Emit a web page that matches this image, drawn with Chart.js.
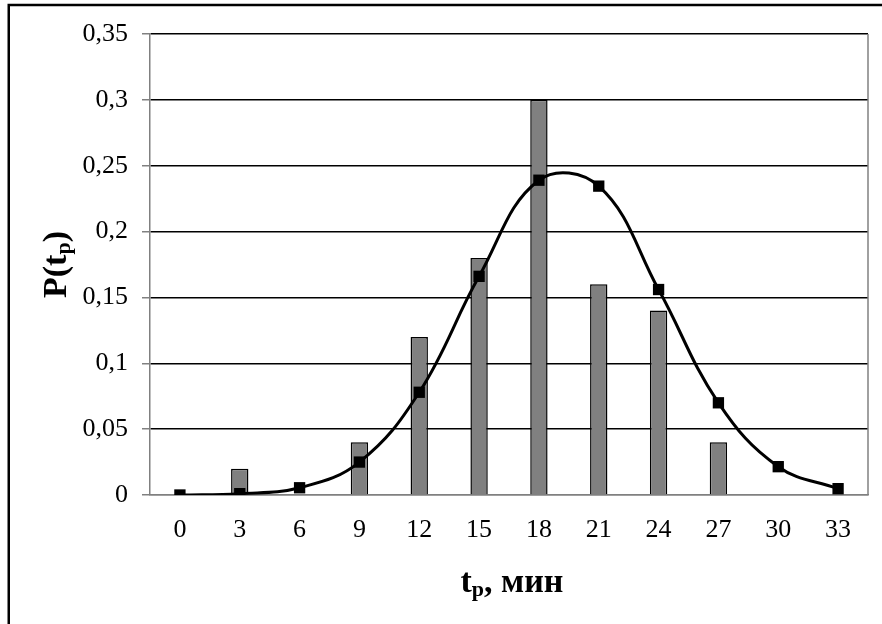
<!DOCTYPE html>
<html>
<head>
<meta charset="utf-8">
<script src="https://cdn.jsdelivr.net/npm/chart.js@4.4.1/dist/chart.umd.min.js"></script>
<style>
  html, body { margin: 0; padding: 0; background: #ffffff; }
  #wrap { width: 882px; height: 624px; position: relative; }
</style>
</head>
<body>
<div id="wrap"><canvas id="c" width="882" height="624"></canvas></div>
<script>
// Time values t_p, min (category axis)
const categories = ['0', '3', '6', '9', '12', '15', '18', '21', '24', '27', '30', '33'];
// Observed relative frequencies (bars)
const observed = [0, 0.02, 0, 0.04, 0.12, 0.18, 0.30, 0.16, 0.14, 0.04, 0, 0];
// Theoretical probability curve (squares + smoothed line)
const theoretical = [0.000, 0.001, 0.0055, 0.025, 0.078, 0.166, 0.239, 0.2345, 0.156, 0.070, 0.0215, 0.0048];
// Y tick labels with decimal comma
const yTickLabels = ['0', '0,05', '0,1', '0,15', '0,2', '0,25', '0,3', '0,35'];

const serif = '"Liberation Serif", "Times New Roman", serif';

// Frame, plot border and axis titles with subscripts
const decor = {
  id: 'decor',
  afterDraw(chart) {
    const ctx = chart.ctx;
    const a = chart.chartArea;
    ctx.save();
    // right edge of the plot area
    ctx.strokeStyle = '#808080';
    ctx.lineWidth = 1.5;
    ctx.beginPath();
    ctx.moveTo(a.right, a.top);
    ctx.lineTo(a.right, a.bottom);
    ctx.stroke();

    // outer frame
    ctx.strokeStyle = '#000000';
    ctx.lineWidth = 2.5;
    ctx.beginPath();
    ctx.moveTo(8.75, 700);
    ctx.lineTo(8.75, 5);
    ctx.lineTo(900, 5);
    ctx.stroke();

    ctx.fillStyle = '#000000';
    ctx.textBaseline = 'alphabetic';
    const big = 'bold 34px ' + serif;
    const small = 'bold 22px ' + serif;

    // x title: t_p, мин
    const partsX = [['t', big, 0], ['p', small, 4], [', мин', big, 0]];
    let w = 0;
    partsX.forEach(p => { ctx.font = p[1]; w += ctx.measureText(p[0]).width; });
    let x = (a.left + a.right) / 2 - w / 2 + 3;
    const by = 592;
    partsX.forEach(p => { ctx.font = p[1]; ctx.fillText(p[0], x, by + p[2]); x += ctx.measureText(p[0]).width; });

    // y title: P(t_p), rotated
    const partsY = [['P(t', big, 0], ['p', small, 4], [')', big, 0]];
    w = 0;
    partsY.forEach(p => { ctx.font = p[1]; w += ctx.measureText(p[0]).width; });
    ctx.translate(66, (a.top + a.bottom) / 2);
    ctx.rotate(-Math.PI / 2);
    x = -w / 2;
    partsY.forEach(p => { ctx.font = p[1]; ctx.fillText(p[0], x, p[2]); x += ctx.measureText(p[0]).width; });
    ctx.restore();
  }
};

new Chart(document.getElementById('c'), {
  data: {
    labels: categories,
    datasets: [
      {
        type: 'line',
        data: theoretical,
        order: 0,
        borderColor: '#000000',
        borderWidth: 3,
        tension: 0.4,
        pointStyle: 'rect',
        pointRadius: 8,
        pointBackgroundColor: '#000000',
        pointBorderColor: '#000000',
        pointBorderWidth: 0,
        fill: false
      },
      {
        type: 'bar',
        data: observed,
        order: 1,
        backgroundColor: '#808080',
        borderColor: '#000000',
        borderWidth: 1.5,
        barPercentage: 0.29,
        categoryPercentage: 1.0
      }
    ]
  },
  options: {
    responsive: false,
    animation: false,
    devicePixelRatio: 1,
    layout: { padding: { top: 34, right: 14, left: 0, bottom: 0 } },
    plugins: { legend: { display: false }, tooltip: { enabled: false } },
    scales: {
      x: {
        grid: { display: false, drawTicks: false },
        border: { display: true, color: '#808080', width: 1.5 },
        ticks: {
          color: '#000000',
          font: { family: serif, size: 26 },
          padding: 20,
          maxRotation: 0,
          autoSkip: false
        },
        afterFit(s) { s.height = 129; }
      },
      y: {
        min: 0,
        max: 0.35,
        grid: {
          color: ctx => (ctx.tick && ctx.tick.value === 0) ? '#808080' : '#000000',
          lineWidth: 1.5,
          tickLength: 8,
          tickColor: '#808080',
          tickWidth: 1.5
        },
        border: { display: true, color: '#808080', width: 1.5 },
        ticks: {
          stepSize: 0.05,
          color: '#000000',
          font: { family: serif, size: 26 },
          padding: 14,
          callback: (v, i) => yTickLabels[i]
        },
        afterFit(s) { s.width = 150; }
      }
    }
  },
  plugins: [decor]
});
</script>
</body>
</html>
